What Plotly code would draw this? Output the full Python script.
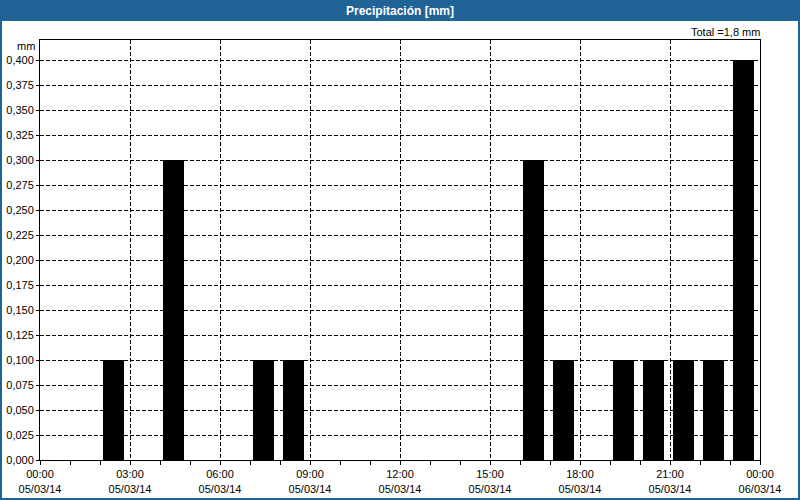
import plotly.graph_objects as go

hours = [2, 4, 7, 8, 16, 17, 19, 20, 21, 22, 23]
values = [0.1, 0.3, 0.1, 0.1, 0.3, 0.1, 0.1, 0.1, 0.1, 0.1, 0.4]
tick_hours = [0, 3, 6, 9, 12, 15, 18, 21, 24]
tick_labels = ["00:00<br>05/03/14", "03:00<br>05/03/14", "06:00<br>05/03/14",
               "09:00<br>05/03/14", "12:00<br>05/03/14", "15:00<br>05/03/14",
               "18:00<br>05/03/14", "21:00<br>05/03/14", "00:00<br>06/03/14"]
y_ticks = [i * 0.025 for i in range(17)]
title = "Precipitación [mm]"
total_text = "Total =1,8 mm"

FONT = "Liberation Sans"
BLUE = "#1f6397"
DASH = "4px,2px"

fig = go.Figure()
fig.add_trace(go.Bar(
    x=[h + 0.45 for h in hours], y=values, width=0.7,
    marker=dict(color="black", line=dict(width=0)),
    hoverinfo="skip",
))

fig.update_layout(
    width=800, height=500,
    margin=dict(l=40, r=40, t=40, b=40, autoexpand=False),
    paper_bgcolor="white", plot_bgcolor="white",
    showlegend=False,
    separators=",.",
    font=dict(family=FONT, size=11, color="black"),
    xaxis=dict(
        range=[0, 24], tickvals=tick_hours, ticktext=tick_labels,
        showgrid=True, gridcolor="black", griddash=DASH, gridwidth=1,
        showline=True, linecolor="black", linewidth=1, mirror=True,
        ticks="outside", ticklen=4, tickcolor="black",
        minor=dict(dtick=1, tick0=0, ticks="outside", ticklen=4, tickcolor="black", showgrid=False),
        zeroline=False, fixedrange=True, automargin=False,
        tickfont=dict(family=FONT, size=11, color="black"),
    ),
    yaxis=dict(
        range=[0, 0.42], tickvals=y_ticks, tickformat=".3f",
        showgrid=True, gridcolor="black", griddash=DASH, gridwidth=1,
        showline=True, linecolor="black", linewidth=1, mirror=True,
        ticks="outside", ticklen=3, tickcolor="black",
        zeroline=False, fixedrange=True, automargin=False,
        tickfont=dict(family=FONT, size=11, color="black"),
    ),
    shapes=[
        dict(type="rect", xref="paper", yref="paper",
             x0=-40/720, x1=760/720, y0=(460-21)/420, y1=460/420,
             fillcolor=BLUE, line=dict(width=0), layer="below"),
        dict(type="rect", xref="paper", yref="paper",
             x0=-39/720, x1=759/720, y0=-39/420, y1=459/420,
             fillcolor="rgba(0,0,0,0)", line=dict(color=BLUE, width=2)),
    ],
    annotations=[
        dict(text="<b>" + title + "</b>", xref="paper", yref="paper",
             x=0.5, y=(460-10.5)/420, xanchor="center", yanchor="middle",
             showarrow=False, font=dict(family=FONT, size=12, color="white")),
        dict(text=total_text, xref="paper", yref="paper",
             x=722/720, y=(460-32)/420, xanchor="right", yanchor="middle",
             showarrow=False, font=dict(family=FONT, size=11, color="black")),
        dict(text="mm", xref="paper", yref="paper",
             x=-3/720, y=(460-46)/420, xanchor="right", yanchor="middle",
             showarrow=False, font=dict(family=FONT, size=11, color="black")),
    ],
)

fig.write_html("out.html")
